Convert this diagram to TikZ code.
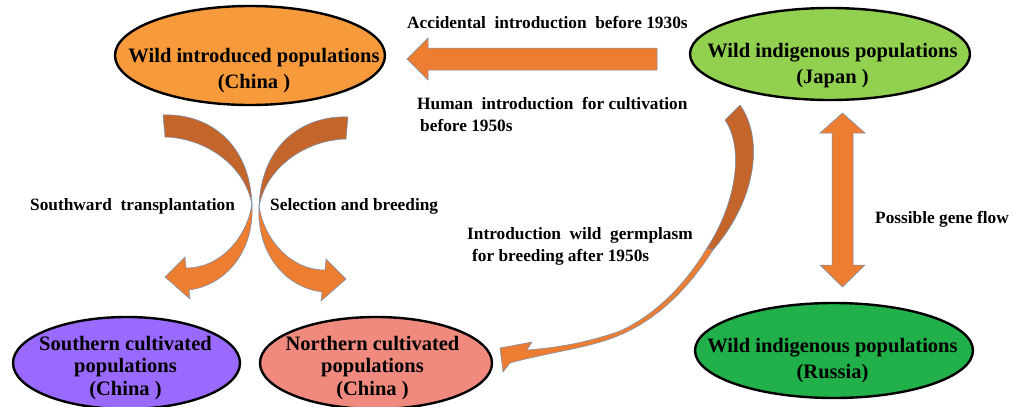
\documentclass[tikz,border=0pt]{standalone}
\usepackage{fontspec}
\setmainfont{Liberation Serif}
\usetikzlibrary{shapes.geometric}
\definecolor{popOrange}{HTML}{F79A3C}
\definecolor{popLightGreen}{HTML}{92D050}
\definecolor{popPurple}{HTML}{9A6AFF}
\definecolor{popSalmon}{HTML}{F08A7E}
\definecolor{popGreen}{HTML}{21B04A}
\definecolor{arrLight}{HTML}{ED7D31}
\definecolor{arrDark}{HTML}{C4662C}
\definecolor{arrLine}{HTML}{6F8FB5}
\tikzset{
  pop/.style={ellipse, draw=black, line width=2.4pt, inner sep=0pt},
  poptext/.style={font=\bfseries\fontsize{20.5}{25.5}\selectfont, align=center, anchor=base, inner sep=0pt},
  poptextiii/.style={font=\bfseries\fontsize{20.5}{22.5}\selectfont, align=center, anchor=base, inner sep=0pt},
  lbl/.style={font=\bfseries\fontsize{17.3}{22}\selectfont, align=left, anchor=base west, inner sep=0pt},
  lightarr/.style={fill=arrLight, draw=arrLine, line width=0.5pt},
  darkarr/.style={fill=arrDark, draw=arrLine, line width=0.5pt},
  xarrow/.pic={
    \path[darkarr] (-89,-90) .. controls (-47,-92) and (-2,-65) .. (0,0)
      .. controls (-7,-40) and (-47,-67) .. (-87,-68) -- cycle;
    \path[lightarr] (0,-2) .. controls (3,45) and (-25,80) .. (-63,85)
      -- (-62,94) -- (-87,72) -- (-67,52) -- (-66,63)
      .. controls (-30,63) and (-4,30) .. (0,-2) -- cycle;
  }
}
\newcommand{\dsp}{\ \ }
\begin{document}
\begin{tikzpicture}[x=1pt,y=-1pt]
\useasboundingbox (0,0) rectangle (1013,407);

% populations
\node[pop, fill=popOrange, minimum width=270pt, minimum height=99pt] (wic) at (250,55.5) {};
\node[pop, fill=popLightGreen, minimum width=280pt, minimum height=92pt] (wjp) at (830,54) {};
\node[pop, fill=popGreen, minimum width=278pt, minimum height=95pt] (wru) at (834,350.5) {};
\node[pop, fill=popPurple, minimum width=227pt, minimum height=92pt] (sch) at (126.5,363) {};
\node[pop, fill=popSalmon, minimum width=232pt, minimum height=92pt] (nch) at (376,363) {};

\node[poptext] (wict) at (254,88) {Wild introduced populations\\(China )};
\node[poptext] (wjpt) at (832.5,83) {Wild indigenous populations\\(Japan )};
\node[poptext] (wrut) at (832.5,378) {Wild indigenous populations\\(Russia)};
\node[poptextiii] (scht) at (125.5,395) {Southern cultivated\\populations\\(China )};
\node[poptextiii] (ncht) at (372.5,395) {Northern cultivated\\populations\\(China )};

% straight arrow Japan -> China
\path[lightarr] (657,48) -- (428,48) -- (428,38) -- (407,59) -- (428,80) -- (428,70) -- (657,70) -- cycle;
% double arrow Japan <-> Russia
\path[lightarr] (832,133) -- (820,133) -- (842.5,113) -- (865,133) -- (853,133) -- (853,265)
  -- (865,265) -- (842.5,287) -- (820,265) -- (832,265) -- cycle;

% crossing arrows
\pic at (252,205) {xarrow};
\pic[xscale=-1] at (259,207) {xarrow};

% big curved arrow Japan -> Northern
\path[darkarr] (740,105) .. controls (762,135) and (760,195) .. (713,250) -- (707,248)
  .. controls (735,205) and (745,150) .. (725,120) -- cycle;
\path[lightarr] (707,248) .. controls (685,285) and (655,315) .. (620,331)
  .. controls (580,345) and (550,348) .. (527,350) -- (532,342) -- (500,348) -- (503,372) -- (510,363)
  .. controls (550,352) and (590,348) .. (620,335)
  .. controls (660,318) and (690,286) .. (713,250) -- cycle;

% labels
\node[lbl] (l1) at (407,28) {Accidental\dsp introduction\dsp before 1930s};
\node[lbl] (l2) at (417,131) {Human\dsp introduction\dsp for cultivation\\\hspace{3pt}before 1950s};
\node[lbl] (l3) at (30,210) {Southward\dsp transplantation};
\node[lbl] (l4) at (270,210) {Selection and breeding};
\node[lbl] (l5) at (467,261) {Introduction\dsp wild\dsp germplasm\\\hspace{5pt}for breeding after 1950s};
\node[lbl] (l6) at (875,223) {Possible gene flow};
\end{tikzpicture}
\end{document}
